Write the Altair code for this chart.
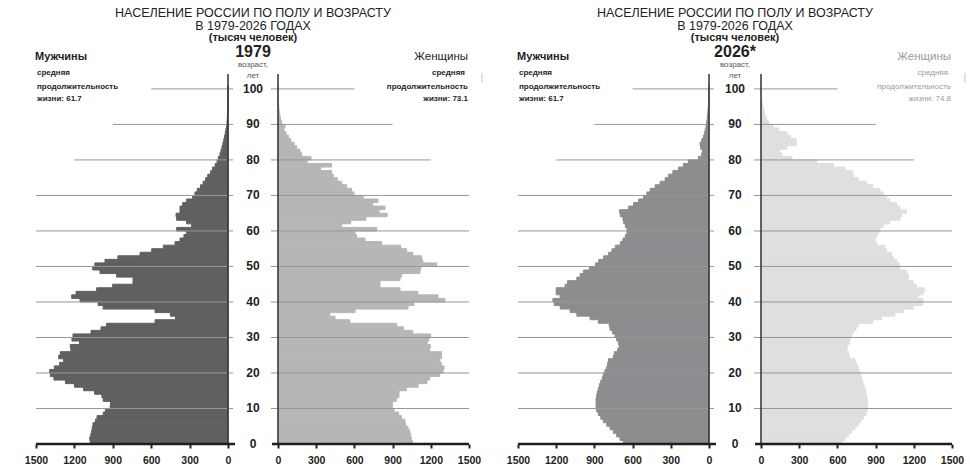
import altair as alt
import pandas as pd

# ---------------- data (thousand persons, single-year ages 0..100) ----------------
ages = list(range(101))

male_1979 = [1075, 1080, 1072, 1065, 1060, 1055, 1036, 1023, 975, 958,
             920, 918, 975, 985, 1042, 1128, 1200, 1270, 1360, 1388,
             1393, 1357, 1315, 1284, 1323, 1310, 1227, 1232, 1160, 1219,
             1211, 1070, 992, 948, 570, 410, 450, 570, 976, 1015,
             1156, 1221, 1187, 1026, 901, 742, 742, 870, 1000, 1057,
             1040, 961, 860, 687, 596, 505, 414, 375, 344, 323,
             401, 284, 323, 401, 406, 375, 375, 354, 323, 276,
             258, 240, 215, 195, 175, 158, 135, 120, 100, 85,
             75, 63, 55, 47, 40, 33, 27, 21, 16, 11,
             8, 6, 4, 3, 2, 1.5, 1, 1, 0.5, 0.5, 0.3]

female_1979 = [1055, 1047, 1042, 1034, 1021, 1003, 995, 969, 948, 911,
               898, 898, 929, 950, 950, 1008, 1100, 1170, 1191, 1270,
               1296, 1304, 1283, 1270, 1285, 1285, 1191, 1196, 1173, 1186,
               1199, 1058, 984, 932, 565, 448, 408, 605, 1021, 1068,
               1311, 1257, 1099, 958, 801, 801, 958, 971, 1115, 1121,
               1246, 1136, 1128, 1058, 1010, 963, 814, 683, 618, 605,
               775, 500, 571, 691, 857, 794, 840, 743, 785, 668,
               597, 578, 539, 500, 466, 434, 421, 335, 421, 228,
               259, 186, 173, 147, 126, 100, 81, 63, 47, 55,
               29, 20, 15, 10, 7, 5, 3, 2, 1, 1, 0.5]

male_2026 = [673, 699, 725, 751, 777, 803, 830, 850, 869, 882,
             887, 887, 887, 882, 877, 869, 861, 850, 837, 830,
             817, 803, 796, 790, 751, 744, 717, 705, 712, 725,
             738, 757, 777, 783, 869, 934, 1038, 1091, 1169, 1216,
             1226, 1169, 1200, 1200, 1130, 1111, 1038, 1012, 986, 940,
             892, 866, 827, 788, 762, 736, 697, 676, 657, 644,
             644, 657, 670, 676, 697, 702, 631, 592, 553, 514,
             488, 462, 423, 384, 344, 318, 284, 240, 201, 162,
             83, 57, 50, 65, 70, 57, 44, 36, 29, 23,
             18, 14, 11, 8, 6, 4, 3, 2, 1.5, 1, 0.5]

female_2026 = [634, 660, 686, 712, 738, 764, 783, 804, 824, 835,
               837, 837, 835, 830, 824, 817, 809, 798, 790, 783,
               772, 764, 751, 738, 694, 686, 673, 678, 694, 699,
               712, 725, 746, 764, 877, 947, 1051, 1117, 1195, 1268,
               1273, 1234, 1273, 1286, 1221, 1195, 1156, 1156, 1143, 1090,
               1085, 1064, 1038, 1025, 986, 973, 908, 895, 908, 921,
               934, 960, 1012, 1091, 1104, 1143, 1091, 1064, 1012, 986,
               960, 934, 877, 830, 764, 725, 720, 660, 569, 438,
               243, 164, 146, 204, 277, 277, 230, 204, 138, 94,
               60, 45, 33, 25, 18, 12, 8, 5, 3, 2, 1]

grid_ages = [10, 20, 30, 40, 50, 60, 70, 80, 90, 100]
grid_reach = [1500, 1500, 1500, 1500, 1500, 1500, 1500, 1200, 900, 600]
label_ages = [0, 10, 20, 30, 40, 50, 60, 70, 80, 90, 100]
tick_values = [0, 300, 600, 900, 1200, 1500]

title_lines = ["НАСЕЛЕНИЕ РОССИИ ПО ПОЛУ И ВОЗРАСТУ", "В 1979-2026 ГОДАХ"]
subtitle = "(тысяч человек)"
life_1979 = ("61.7", "73.1")
life_2026 = ("61.7", "74.8")

# ---------------- styling ----------------
FONT = "Liberation Sans"
YMAX = 104.2
H = 370
GRID = "#969696"
ONE = pd.DataFrame({"k": [0]})


def yscale():
    return alt.Scale(domain=[0, YMAX], nice=False, zero=False)


def xaxis():
    return alt.Axis(values=tick_values, format="d", domain=False, grid=False,
                    tickColor="#222222", tickWidth=2, tickSize=4,
                    labelFont=FONT, labelFontSize=10.5,
                    labelFontWeight="bold", labelColor="#222222",
                    labelPadding=7, labelFlush=False, labelOverlap=False,
                    title=None)


def note(text, x, y, size, weight="normal", color="#222222", align="left"):
    return alt.Chart(ONE).mark_text(
        font=FONT, fontSize=size, fontWeight=weight, color=color,
        align=align, baseline="middle"
    ).encode(text=alt.value(text), x=alt.value(x), y=alt.value(y))


def side_chart(values, color, reverse, width, gap_grid, gap_axis, notes):
    df = pd.DataFrame({"age": ages, "v": values})
    xs = alt.Scale(domain=[0, 1500], reverse=reverse, nice=False, zero=False)
    per_px = 1500.0 / width
    bars = alt.Chart(df).transform_calculate(age1="datum.age + 1").mark_bar(
        color=color, stroke=color, strokeWidth=1
    ).encode(
        x=alt.X("v:Q", scale=xs, axis=xaxis()),
        x2=alt.X2Datum(0),
        y=alt.Y("age:Q", scale=yscale(), axis=None),
        y2="age1:Q",
    )
    gdf = pd.DataFrame({"age": grid_ages, "reach": grid_reach})
    grid = alt.Chart(gdf).mark_rule(color=GRID, strokeWidth=1).encode(
        x=alt.X("reach:Q", scale=xs, axis=xaxis()),
        x2=alt.X2Datum(-gap_grid * per_px),
        y=alt.Y("age:Q", scale=yscale(), axis=None),
    )
    zero = alt.Chart(ONE).mark_rule(color="#333333", strokeWidth=1.5).encode(
        x=alt.XDatum(0, scale=xs, axis=xaxis()),
        y=alt.YDatum(0, scale=yscale(), axis=None),
        y2=alt.Y2Datum(YMAX),
    )
    base = alt.Chart(ONE).mark_rule(color="#1e1e1e", strokeWidth=2.5).encode(
        x=alt.XDatum(1500, scale=xs, axis=xaxis()),
        x2=alt.X2Datum(-gap_axis * per_px),
        y=alt.YDatum(0, scale=yscale(), axis=None),
    )
    return alt.layer(bars, grid, zero, base, *notes).properties(width=width, height=H)


def center_chart(year, width):
    ldf = pd.DataFrame({"age": label_ages, "lab": [str(a) for a in label_ages]})
    labels = alt.Chart(ldf).mark_text(
        font=FONT, fontSize=12, fontWeight="bold", color="#222222",
        align="center", baseline="middle"
    ).encode(x=alt.value(width / 2), y=alt.Y("age:Q", scale=yscale(), axis=None),
             text="lab:N")
    cx = width / 2
    notes = [
        note(title_lines[0], cx, -61, 12.5, align="center"),
        note(title_lines[1], cx, -48.5, 12.5, align="center"),
        note(subtitle, cx, -36, 11, weight="bold", align="center"),
        note(year, cx, -22, 16, weight="bold", align="center"),
        note("возраст,", cx, -9, 8, color="#555555", align="center"),
        note("лет", cx, 2, 8, color="#555555", align="center"),
    ]
    return alt.layer(labels, *notes).properties(width=width, height=H)


def male_notes(life, color):
    return [
        note("Мужчины", -1, -17, 11, weight="bold", color=color),
        note("средняя", 1, -1, 8, weight="bold", color=color),
        note("продолжительность", 1, 12.5, 8, weight="bold", color=color),
        note("жизни: " + life, 1, 25, 8, weight="bold", color=color),
    ]


def female_notes(life, width, color, weight):
    r = width - 1
    return [
        note("Женщины", r, -17, 11.5, color=color, align="right"),
        note("средняя", r - 3, -1, 8, weight=weight, color=color, align="right"),
        note("продолжительность", r, 12.5, 8, weight=weight, color=color, align="right"),
        note("жизни: " + life, r, 25, 8, weight=weight, color=color, align="right"),
        note("|", width + 13, 3, 9, color="#b5b5b5", align="center"),
    ]


m79 = side_chart(male_1979, "#5f6062", True, 192, 5, 7, male_notes(life_1979[0], "#1e1e1e"))
c79 = center_chart("1979", 50)
f79 = side_chart(female_1979, "#b5b6b8", False, 191, 7, 6,
                 female_notes(life_1979[1], 191, "#1e1e1e", "bold"))

spacer = alt.Chart(ONE).mark_text(opacity=0).encode(
    text=alt.value(" "), x=alt.value(0), y=alt.value(0)
).properties(width=49, height=H)

m26 = side_chart(male_2026, "#8b8d8f", True, 191, 5, 7, male_notes(life_2026[0], "#1e1e1e"))
c26 = center_chart("2026*", 52)
f26 = side_chart(female_2026, "#dedfe1", False, 191, 7, 6,
                 female_notes(life_2026[1], 191, "#9a9a9a", "normal"))

chart = alt.hconcat(m79, c79, f79, spacer, m26, c26, f26, spacing=0, bounds="flush").properties(
    padding={"left": 24, "top": 7, "right": 3, "bottom": 9},
    background="white",
).configure_view(stroke=None).configure_axisX(labelOverlap=False)

chart.save("out.html", embed_options={"renderer": "svg", "actions": False})
